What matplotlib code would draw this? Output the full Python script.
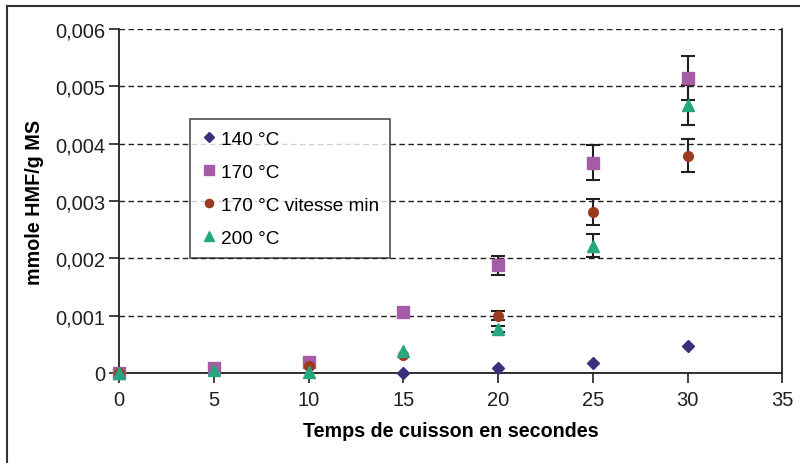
# HMF formation vs cooking time
import matplotlib.pyplot as plt
from matplotlib.lines import Line2D
import numpy as np

plt.rcParams['font.family'] = ['Liberation Sans', 'DejaVu Sans']

# Data
t_140 = [0, 15, 20, 25, 30]
hmf_140 = [0.0, 0.0, 0.00009, 0.00017, 0.00047]

t_170 = [0, 5, 10, 15, 20, 25, 30]
hmf_170 = [0.0, 0.00008, 0.0002, 0.00106, 0.00188, 0.00367, 0.00515]
err_170 = [0, 0, 0, 0, 0.00017, 0.0003, 0.00038]

t_170min = [0, 10, 15, 20, 25, 30]
hmf_170min = [0.0, 0.00012, 0.00031, 0.001, 0.00281, 0.00379]
err_170min = [0, 0, 0, 0.00008, 0.00023, 0.00029]

t_200 = [0, 5, 10, 15, 20, 25, 30]
hmf_200 = [0.0, 0.00005, 0.00002, 0.00038, 0.00077, 0.00222, 0.00468]
err_200 = [0, 0, 0, 0, 0.00005, 0.0002, 0.00035]

y_ticks = [0, 0.001, 0.002, 0.003, 0.004, 0.005, 0.006]
y_labels = ["0", "0,001", "0,002", "0,003", "0,004", "0,005", "0,006"]
x_ticks = [0, 5, 10, 15, 20, 25, 30, 35]

fig = plt.figure(figsize=(8, 4.64), dpi=100)
ax = fig.add_axes([0.149, 0.194, 0.829, 0.741])

# outer frame of the figure (left and top visible)
fig.add_artist(Line2D([0.009, 0.009], [0, 0.984], transform=fig.transFigure, color="#333333", lw=1.5))
fig.add_artist(Line2D([0.009, 1.0], [0.984, 0.984], transform=fig.transFigure, color="#333333", lw=1.5))

# error bars first, only where an error was shown
for t, v, e in [(t_170, hmf_170, err_170), (t_170min, hmf_170min, err_170min), (t_200, hmf_200, err_200)]:
    t, v, e = np.array(t), np.array(v), np.array(e)
    m = e > 0
    ax.errorbar(t[m], v[m], yerr=e[m], fmt="none", ecolor="#231f20", elinewidth=1.5,
                capsize=5, capthick=1.5, zorder=3)

ax.plot(t_140, hmf_140, "D", color="#3b2f7c", markersize=6.5, label="140 °C", zorder=4, clip_on=False)
ax.plot(t_170, hmf_170, "s", color="#a55ca6", markersize=8, label="170 °C", zorder=4, clip_on=False)
ax.plot(t_170min, hmf_170min, "o", color="#9a3b20", markersize=7, label="170 °C vitesse min", zorder=4, clip_on=False)
ax.plot(t_200, hmf_200, "^", color="#25a77f", markersize=8.5, label="200 °C", zorder=5, clip_on=False)

ax.set_xlim(0, 35)
ax.set_ylim(0, 0.006)
ax.set_xticks(x_ticks)
ax.set_yticks(y_ticks)
ax.set_yticklabels(y_labels)
ax.tick_params(axis="both", labelsize=14.5, colors="#231f20", direction="out", length=7, width=1.2)
ax.tick_params(axis="x", pad=5)
ax.tick_params(axis="y", pad=3)

ax.grid(axis="y", linestyle=(0, (4, 2.5)), color="#231f20", linewidth=1)
ax.spines["top"].set_visible(False)
for s in ["left", "bottom", "right"]:
    ax.spines[s].set_color("#231f20")
    ax.spines[s].set_linewidth(1.3)

ax.set_xlabel("Temps de cuisson en secondes", fontsize=14.2, fontweight="bold", labelpad=9)
ax.set_ylabel("mmole HMF/g MS", fontsize=14.2, fontweight="bold", labelpad=8)

leg = ax.legend(loc="upper left", bbox_to_anchor=(0.107, 0.738), fontsize=13.7, frameon=True,
                fancybox=False, edgecolor="#231f20", handlelength=0.75, handletextpad=0.25,
                borderpad=0.6, labelspacing=0.82, borderaxespad=0, markerscale=0.85)
leg.get_frame().set_linewidth(1.2)

plt.savefig("out.png", dpi=100)
